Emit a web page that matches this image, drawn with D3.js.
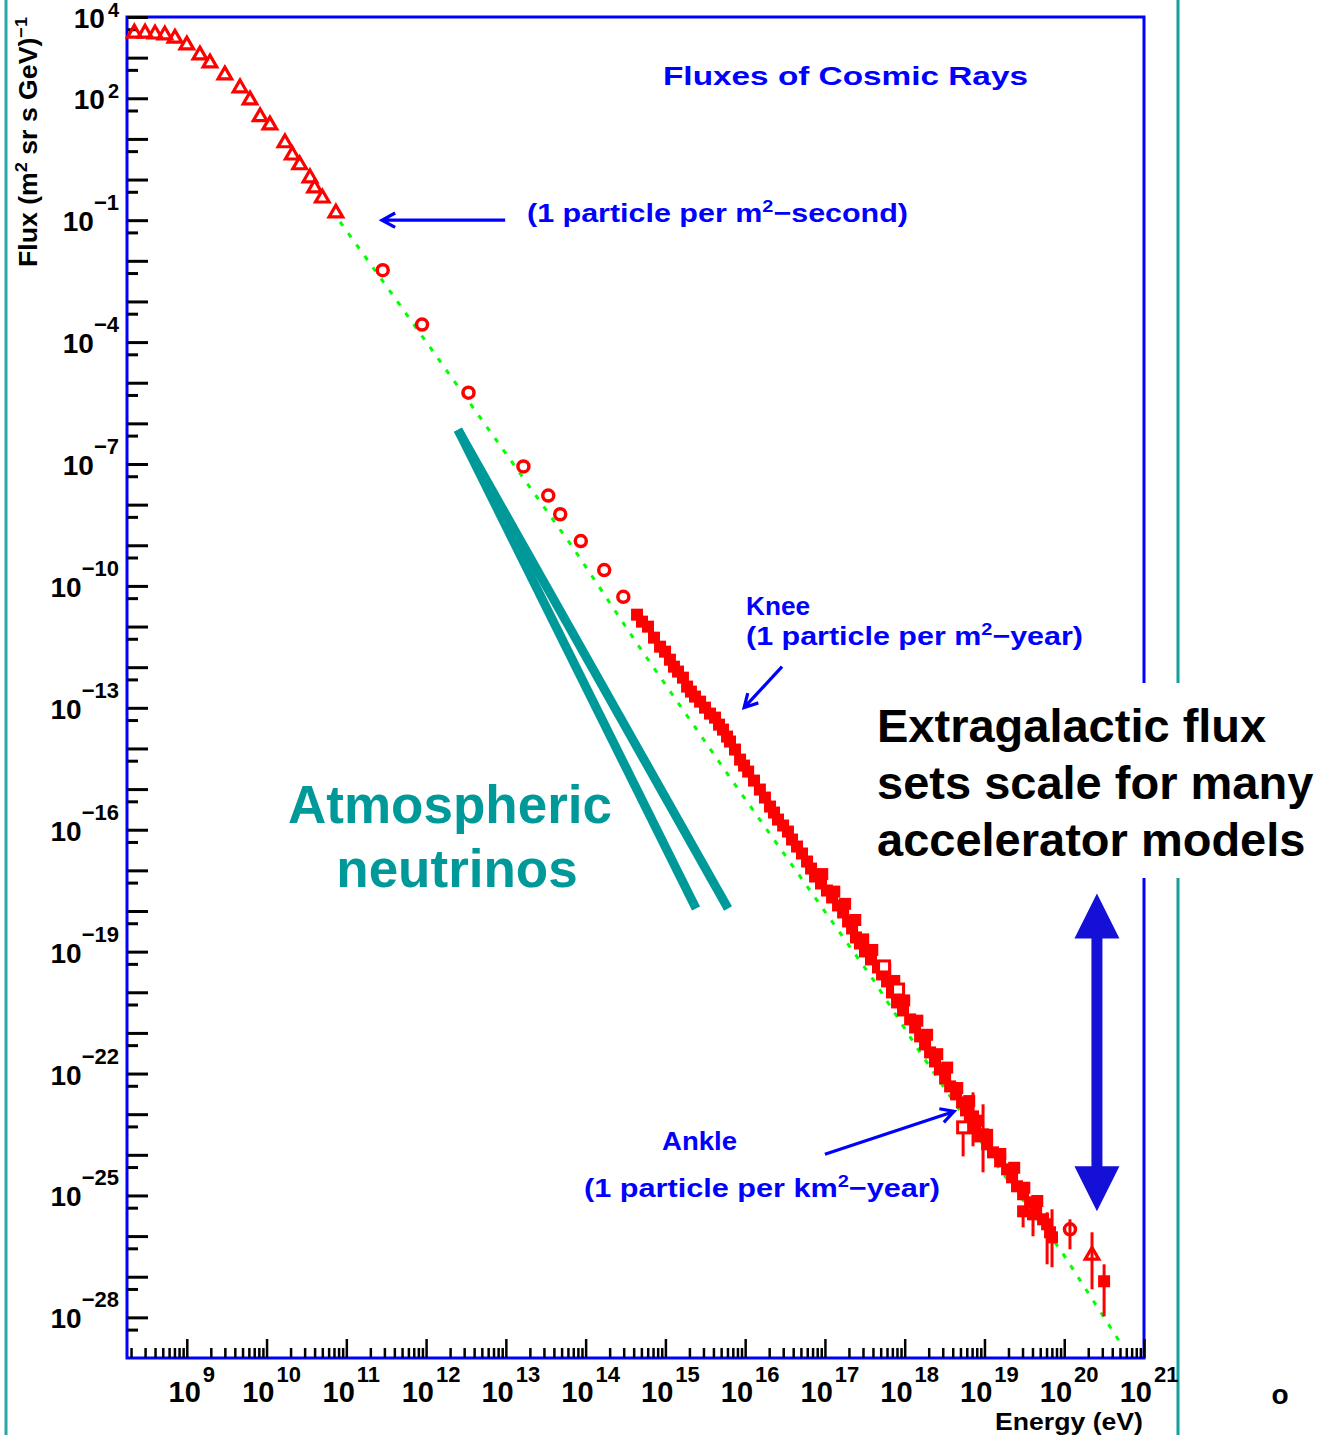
<!DOCTYPE html>
<html>
<head>
<meta charset="utf-8">
<script src="https://cdn.jsdelivr.net/npm/d3@7"></script>
<style>
  html, body { margin: 0; padding: 0; background: #ffffff; }
  svg { display: block; }
  text { font-family: "Liberation Sans", Arial, Helvetica, sans-serif; }
</style>
</head>
<body>
<svg id="chart" width="1333" height="1435"></svg>
<script>
// ---------------------------------------------------------------
// Cosmic-ray flux compilation, energies in eV, flux in (m^2 sr s GeV)^-1
// ---------------------------------------------------------------
const energyDomain = [1.78e8, 1e21];
const fluxDomain = [1e-29, 1e4];

// axis labels (powers of ten)
const xLabelExps = [9, 10, 11, 12, 13, 14, 15, 16, 17, 18, 19, 20, 21];
const yLabelExps = [4, 2, -1, -4, -7, -10, -13, -16, -19, -22, -25, -28];

// low-energy direct measurements (open triangles)
const triEnergy = [2.2e8, 3.0e8, 4.0e8, 5.3e8, 7.1e8, 1.0e9, 1.46e9, 1.95e9, 3.0e9, 4.65e9,
                   6.2e9, 8.3e9, 1.1e10, 1.7e10, 2.1e10, 2.6e10, 3.5e10, 4.0e10, 5.0e10, 7.4e10];
const triFlux   = [4.0e3, 4.0e3, 3.8e3, 3.6e3, 3.0e3, 2.05e3, 1.16e3, 740, 375, 180,
                   91, 35, 22, 8.0, 4.0, 2.3, 1.1, 0.62, 0.35, 0.15];

// balloon / satellite points (open circles)
const circEnergy = [2.86e11, 8.9e11, 3.4e12, 1.66e13, 3.4e13, 4.8e13, 8.7e13, 1.71e14, 2.97e14];
const circFlux   = [5.9e-3, 2.7e-4, 5.7e-6, 8.7e-8, 1.67e-8, 5.8e-9, 1.27e-9, 2.45e-10, 5.4e-11];

// air-shower arrays, set A (filled squares)
const sqAEnergy = [4.41e14, 6.05e14, 8.57e14, 1.14e15, 1.44e15, 1.87e15, 2.35e15, 3.14e15, 4.19e15, 5.27e15,
                   6.46e15, 8.63e15, 1.09e16, 1.53e16, 2.05e16, 2.58e16, 3.44e16, 4.47e16, 5.97e16, 7.52e16,
                   1.06e17, 1.46e17, 1.95e17, 2.45e17, 3.18e17, 4.63e17, 6.01e17, 8.02e17, 1.17e18, 1.56e18,
                   2.08e18, 2.77e18, 3.71e18, 5.24e18, 6.59e18, 8.81e18, 1.28e19, 1.92e19, 2.56e19, 3.73e19,
                   5.43e19, 6.64e19];
const sqAFlux   = [1.96e-11, 9.95e-12, 3.2e-12, 1.53e-12, 7.8e-13, 3.33e-13, 1.89e-13, 1.01e-13, 5.74e-14, 2.91e-14,
                   1.48e-14, 5.32e-15, 2.7e-15, 9.75e-16, 3.72e-16, 1.78e-16, 9.03e-17, 3.86e-17, 1.65e-17, 7.06e-18,
                   3.19e-18, 1.37e-18, 5.52e-19, 2.23e-19, 1.01e-19, 4.08e-20, 1.85e-20, 5.62e-21, 2.15e-21, 8.2e-22,
                   3.31e-22, 1.26e-22, 4.83e-23, 1.95e-23, 7.46e-24, 2.84e-24, 1.15e-24, 4.4e-25, 1.68e-25, 6.78e-26,
                   2.59e-26, 1.24e-26];

// air-shower arrays, set B (filled squares)
const sqBEnergy = [9.25e16, 1.31e17, 1.79e17, 2.40e17, 3.02e17, 3.92e17, 5.70e17, 7.40e17, 9.86e17, 1.44e18,
                   1.91e18, 2.56e18, 3.41e18, 4.56e18, 6.44e18, 8.11e18, 1.08e19, 1.58e19, 2.36e19, 3.16e19, 4.59e19];
const sqBFlux   = [8.1e-18, 3.0e-18, 1.5e-18, 6.0e-19, 2.0e-19, 1.1e-19, 3.7e-20, 1.9e-20, 6.3e-21, 2.0e-21,
                   9.0e-22, 3.0e-22, 1.4e-22, 4.4e-23, 2.1e-23, 6.9e-24, 3.1e-24, 1.05e-24, 4.8e-25, 1.55e-25, 7.3e-26];

// air-shower arrays, set C (filled squares)
const sqCEnergy = [5.09e14, 7.2e14, 9.9e14, 1.28e15, 1.66e15, 2.09e15, 2.72e15, 3.62e15, 4.7e15, 5.93e15,
                   7.46e15, 9.68e15, 1.29e16, 1.77e16, 2.3e16, 2.99e16, 3.87e16, 5.16e16, 6.7e16, 8.93e16,
                   1.23e17, 1.69e17, 2.19e17, 2.75e17, 3.78e17, 5.2e17, 6.93e17, 9.53e17, 1.35e18, 1.8e18,
                   2.4e18, 3.21e18, 4.41e18, 5.87e18, 7.62e18, 1.08e19, 1.57e19, 2.22e19, 3.05e19, 4.44e19];
const sqCFlux   = [1.32e-11, 5.33e-12, 2.41e-12, 1.03e-12, 5.53e-13, 2.51e-13, 1.42e-13, 7.21e-14, 3.86e-14, 1.96e-14,
                   9.4e-15, 3.79e-15, 1.62e-15, 6.19e-16, 2.65e-16, 1.27e-16, 5.74e-17, 2.6e-17, 1.11e-17, 4.75e-18,
                   2.15e-18, 9.2e-19, 3.72e-19, 1.59e-19, 6.43e-20, 2.75e-20, 9.9e-21, 3.57e-21, 1.36e-21, 5.21e-22,
                   1.99e-22, 7.6e-23, 3.07e-23, 1.24e-23, 4.48e-24, 1.81e-24, 6.92e-25, 2.79e-25, 1.07e-25, 4.07e-26];

// highest-energy points with vertical error bars (filled squares)
const barEnergy = [7.19e18, 9.6e18, 3.05e19, 4.06e19, 6.1e19, 7.03e19, 3.16e20];
const barFlux   = [8.83e-24, 3.19e-24, 4.07e-26, 3.43e-26, 1.95e-26, 9.33e-27, 7.73e-28];
const barLow    = [1.62e-24, 3.71e-25, 1.64e-26, 9.9e-27, 2.02e-27, 1.71e-27, 1.06e-28];
const barHigh   = [3.44e-23, 1.75e-23, 5.41e-26, 4.57e-26, 3.85e-26, 4.57e-26, 2.02e-27];

// open squares
const openSqEnergy = [5.51e17, 8.26e17, 5.4e18];
const openSqFlux   = [4.32e-20, 1.17e-20, 4.74e-24];
const openSqLow    = [4.32e-20, 1.17e-20, 9.16e-25];
const openSqHigh   = [4.32e-20, 1.17e-20, 6.0e-24];

// ultra-high-energy open markers
const uheCircEnergy = [1.18e20];
const uheCircFlux   = [1.47e-26];
const uheCircLow    = [4.73e-27];
const uheCircHigh   = [2.59e-26];
const uheTriEnergy  = [2.23e20];
const uheTriFlux    = [3.37e-27];
const uheTriLow     = [4.91e-28];
const uheTriHigh    = [1.24e-26];

// power-law fit through the spectrum (dashed green)
const fitEnergy = [8.34e10, 3.73e11, 6.95e13, 4.41e14, 6.46e15, 4.01e17, 1.56e18, 1.66e19, 8.87e19, 5.01e20];
const fitFlux   = [9.08e-2, 1.54e-3, 8.71e-10, 3.79e-12, 1.92e-15, 2.07e-20, 3.31e-22, 3.71e-25, 4.73e-27, 2.44e-29];

// atmospheric neutrino band (two thick lines)
const nuLowerEnergy = [2.51e12, 2.42e15];
const nuLowerFlux   = [6.97e-7, 1.15e-18];
const nuUpperEnergy = [2.51e12, 6.1e15];
const nuUpperFlux   = [6.97e-7, 1.15e-18];

// ---------------------------------------------------------------
const svg = d3.select("#chart");
const W = 1333, H = 1435;
const plot = { left: 127, right: 1144, top: 17, bottom: 1358 };

const x = d3.scaleLog().domain(energyDomain).range([plot.left, plot.right]);
const y = d3.scaleLog().domain(fluxDomain).range([plot.bottom, plot.top]);

const BLUE = "#0000ff", RED = "#ff0000", GREEN = "#00ff00", TEAL = "#009999";

svg.append("rect").attr("width", W).attr("height", H).attr("fill", "#ffffff");

// slide side rules
svg.append("line").attr("x1", 6).attr("x2", 6).attr("y1", 0).attr("y2", H)
  .attr("stroke", "#2aa6a6").attr("stroke-width", 3);
svg.append("line").attr("x1", 1178).attr("x2", 1178).attr("y1", 0).attr("y2", H)
  .attr("stroke", "#159c9c").attr("stroke-width", 3);

// plot frame
svg.append("rect")
  .attr("x", plot.left).attr("y", plot.top)
  .attr("width", plot.right - plot.left).attr("height", plot.bottom - plot.top)
  .attr("fill", "none").attr("stroke", BLUE).attr("stroke-width", 3);

// ---- ticks ----
const xMajor = [], xMinor = [];
for (let e = 8; e <= 21; e++) {
  const d = Math.pow(10, e);
  if (d >= energyDomain[0] && d <= energyDomain[1]) xMajor.push(d);
  for (let k = 2; k <= 9; k++) {
    const v = k * d;
    if (v >= energyDomain[0] && v <= energyDomain[1]) xMinor.push(v);
  }
}
const yMajor = [], yMinor = [];
for (let e = 4; e >= -28; e--) {
  yMajor.push(Math.pow(10, e));
  yMinor.push(5 * Math.pow(10, e - 1));
}

function styleAxis(g, w) {
  g.select(".domain").remove();
  g.selectAll(".tick line").attr("stroke", "#000").attr("stroke-width", w);
  g.selectAll(".tick text").remove();
}
svg.append("g").attr("transform", `translate(0,${plot.bottom})`)
  .call(d3.axisTop(x).tickValues(xMinor).tickSize(10).tickFormat(""))
  .call(g => styleAxis(g, 2.5));
svg.append("g").attr("transform", `translate(0,${plot.bottom})`)
  .call(d3.axisTop(x).tickValues(xMajor).tickSize(19).tickFormat(""))
  .call(g => styleAxis(g, 2.5));
svg.append("g").attr("transform", `translate(${plot.left},0)`)
  .call(d3.axisRight(y).tickValues(yMinor).tickSize(11).tickFormat(""))
  .call(g => styleAxis(g, 3));
svg.append("g").attr("transform", `translate(${plot.left},0)`)
  .call(d3.axisRight(y).tickValues(yMajor).tickSize(21).tickFormat(""))
  .call(g => styleAxis(g, 3));

// ---- tick labels ----
const expText = e => (e < 0 ? "\u2212" + Math.abs(e) : String(e));

const xl = svg.append("g").attr("font-weight", "bold").attr("fill", "#000");
xLabelExps.forEach(e => {
  const t = xl.append("text")
    .attr("x", x(Math.pow(10, e)) + 5).attr("y", 1402)
    .attr("text-anchor", "middle");
  t.append("tspan").attr("font-size", 29).text("10");
  t.append("tspan").attr("font-size", 22).attr("dx", 2).attr("dy", -20).text(expText(e));
});

const yl = svg.append("g").attr("font-weight", "bold").attr("fill", "#000");
yLabelExps.forEach(e => {
  const ty = y(Math.pow(10, e));
  const t = yl.append("text")
    .attr("x", 119).attr("y", ty + 11)
    .attr("text-anchor", "end");
  t.append("tspan").attr("font-size", 28).text("10");
  t.append("tspan").attr("font-size", e >= 0 ? 20 : 22)
    .attr("dx", e >= 0 ? 3 : 0)
    .attr("dy", e >= 0 ? -11 : -21)
    .text(expText(e));
});

// axis titles
const yt = svg.append("text")
  .attr("transform", "translate(37,267) rotate(-90)")
  .attr("font-weight", "bold").attr("font-size", 25).attr("fill", "#000")
  .attr("textLength", 250).attr("lengthAdjust", "spacingAndGlyphs");
yt.append("tspan").text("Flux (m");
yt.append("tspan").attr("font-size", 17).attr("dy", -10).text("2");
yt.append("tspan").attr("dy", 10).text(" sr s GeV)");
yt.append("tspan").attr("font-size", 17).attr("dy", -10).text("\u22121");

svg.append("text")
  .attr("x", 995).attr("y", 1430)
  .attr("font-weight", "bold").attr("font-size", 23).attr("fill", "#000")
  .attr("textLength", 148).attr("lengthAdjust", "spacingAndGlyphs")
  .text("Energy (eV)");

// ---- fit line ----
const fitPts = fitEnergy.map((e, i) => [e, fitFlux[i]]);
svg.append("path")
  .attr("d", d3.line().x(d => x(d[0])).y(d => y(d[1]))(fitPts))
  .attr("fill", "none").attr("stroke", GREEN).attr("stroke-width", 3)
  .attr("stroke-dasharray", "5,9");

// ---- atmospheric neutrino lines ----
[[nuLowerEnergy, nuLowerFlux], [nuUpperEnergy, nuUpperFlux]].forEach(([es, fs]) => {
  svg.append("line")
    .attr("x1", x(es[0])).attr("y1", y(fs[0]))
    .attr("x2", x(es[1])).attr("y2", y(fs[1]))
    .attr("stroke", TEAL).attr("stroke-width", 9).attr("stroke-linecap", "butt");
});

// ---- error bars ----
const bars = [];
barEnergy.forEach((e, i) => bars.push([e, barLow[i], barHigh[i]]));
openSqEnergy.forEach((e, i) => bars.push([e, openSqLow[i], openSqHigh[i]]));
uheCircEnergy.forEach((e, i) => bars.push([e, uheCircLow[i], uheCircHigh[i]]));
uheTriEnergy.forEach((e, i) => bars.push([e, uheTriLow[i], uheTriHigh[i]]));
svg.append("g").selectAll("line").data(bars).join("line")
  .attr("x1", d => x(d[0])).attr("x2", d => x(d[0]))
  .attr("y1", d => y(d[1])).attr("y2", d => y(d[2]))
  .attr("stroke", RED).attr("stroke-width", 3);

// ---- markers ----
const zip = (a, b) => a.map((v, i) => [v, b[i]]);
const triSym = d3.symbol(d3.symbolTriangle, 80)();
const sqSym = d3.symbol(d3.symbolSquare, 144)();

svg.append("g").selectAll("path")
  .data(zip(triEnergy, triFlux).concat(zip(uheTriEnergy, uheTriFlux))).join("path")
  .attr("d", triSym)
  .attr("transform", d => `translate(${x(d[0])},${y(d[1])})`)
  .attr("fill", "none").attr("stroke", RED).attr("stroke-width", 3.2)
  .attr("stroke-linejoin", "miter");

svg.append("g").selectAll("circle")
  .data(zip(circEnergy, circFlux).concat(zip(uheCircEnergy, uheCircFlux))).join("circle")
  .attr("cx", d => x(d[0])).attr("cy", d => y(d[1])).attr("r", 5.5)
  .attr("fill", "none").attr("stroke", RED).attr("stroke-width", 3.5);

svg.append("g").selectAll("path")
  .data(zip(sqAEnergy, sqAFlux).concat(zip(sqBEnergy, sqBFlux), zip(sqCEnergy, sqCFlux), zip(barEnergy, barFlux)))
  .join("path")
  .attr("d", sqSym)
  .attr("transform", d => `translate(${x(d[0])},${y(d[1])})`)
  .attr("fill", RED);

svg.append("g").selectAll("rect")
  .data(zip(openSqEnergy, openSqFlux)).join("rect")
  .attr("x", d => x(d[0]) - 5.5).attr("y", d => y(d[1]) - 5.5)
  .attr("width", 11).attr("height", 11)
  .attr("fill", "#ffffff").attr("stroke", RED).attr("stroke-width", 3);

// ---- annotations ----
function arrow(x1, y1, x2, y2, len, color) {
  const a = Math.atan2(y2 - y1, x2 - x1);
  const h1 = [x2 - len * Math.cos(a - 0.5), y2 - len * Math.sin(a - 0.5)];
  const h2 = [x2 - len * Math.cos(a + 0.5), y2 - len * Math.sin(a + 0.5)];
  svg.append("path")
    .attr("d", `M${x1},${y1}L${x2},${y2}M${h1[0]},${h1[1]}L${x2},${y2}L${h2[0]},${h2[1]}`)
    .attr("fill", "none").attr("stroke", color).attr("stroke-width", 3.2)
    .attr("stroke-linejoin", "miter");
}
// 1 particle per m^2-second
arrow(x(9.8e12), y(1e-1), x(2.8e11), y(1e-1), 15, BLUE);
// knee
arrow(x(2.9e16), y(1.03e-12), x(9.7e15), y(1.01e-13), 15, BLUE);
// ankle
arrow(x(1.0e17), y(1.03e-24), x(4.16e18), y(1.17e-23), 15, BLUE);

function blueText(tx, ty, len, parts) {
  const t = svg.append("text")
    .attr("x", tx).attr("y", ty)
    .attr("font-weight", "bold").attr("font-size", 26).attr("fill", BLUE)
    .attr("textLength", len).attr("lengthAdjust", "spacingAndGlyphs");
  parts.forEach(p => {
    if (p.sup) {
      t.append("tspan").attr("font-size", 17).attr("dy", -10).text(p.sup);
      t.append("tspan").attr("dy", 10).text(p.after || "");
    } else {
      t.append("tspan").text(p.t);
    }
  });
}
blueText(663, 85, 365, [{ t: "Fluxes of Cosmic Rays" }]);
blueText(527, 222, 381, [{ t: "(1 particle per m" }, { sup: "2", after: "\u2212second)" }]);
blueText(746, 615, 64, [{ t: "Knee" }]);
blueText(746, 645, 337, [{ t: "(1 particle per m" }, { sup: "2", after: "\u2212year)" }]);
blueText(662, 1150, 75, [{ t: "Ankle" }]);
blueText(584, 1197, 356, [{ t: "(1 particle per km" }, { sup: "2", after: "\u2212year)" }]);

// atmospheric neutrino label
const nuLabel = svg.append("g").attr("font-weight", "bold").attr("font-size", 53)
  .attr("fill", TEAL).attr("text-anchor", "middle");
nuLabel.append("text").attr("x", 450).attr("y", 823).text("Atmospheric");
nuLabel.append("text").attr("x", 457).attr("y", 887).text("neutrinos");

// extragalactic statement, on a white panel
svg.append("rect").attr("x", 866).attr("y", 683).attr("width", 467).attr("height", 195)
  .attr("fill", "#ffffff");
const eg = svg.append("g").attr("font-weight", "bold").attr("font-size", 47).attr("fill", "#000");
eg.append("text").attr("x", 877).attr("y", 742).text("Extragalactic flux");
eg.append("text").attr("x", 877).attr("y", 799).text("sets scale for many");
eg.append("text").attr("x", 877).attr("y", 856).text("accelerator models");

// double-headed arrow spanning the extragalactic scale
{
  const ax = x(2.57e20), yTop = y(2.69e-18), yBot = y(4.07e-26);
  const sw = 5.5, hw = 22.5, hl = 45;
  const pts = [
    [ax, yTop], [ax + hw, yTop + hl], [ax + sw, yTop + hl],
    [ax + sw, yBot - hl], [ax + hw, yBot - hl], [ax, yBot],
    [ax - hw, yBot - hl], [ax - sw, yBot - hl], [ax - sw, yTop + hl],
    [ax - hw, yTop + hl]
  ];
  svg.append("polygon").attr("points", pts.map(p => p.join(",")).join(" "))
    .attr("fill", "#1410d8");
}

// page mark
svg.append("text").attr("x", 1280).attr("y", 1404).attr("text-anchor", "middle")
  .attr("font-weight", "bold").attr("font-size", 28).attr("fill", "#000").text("o");
</script>
</body>
</html>
